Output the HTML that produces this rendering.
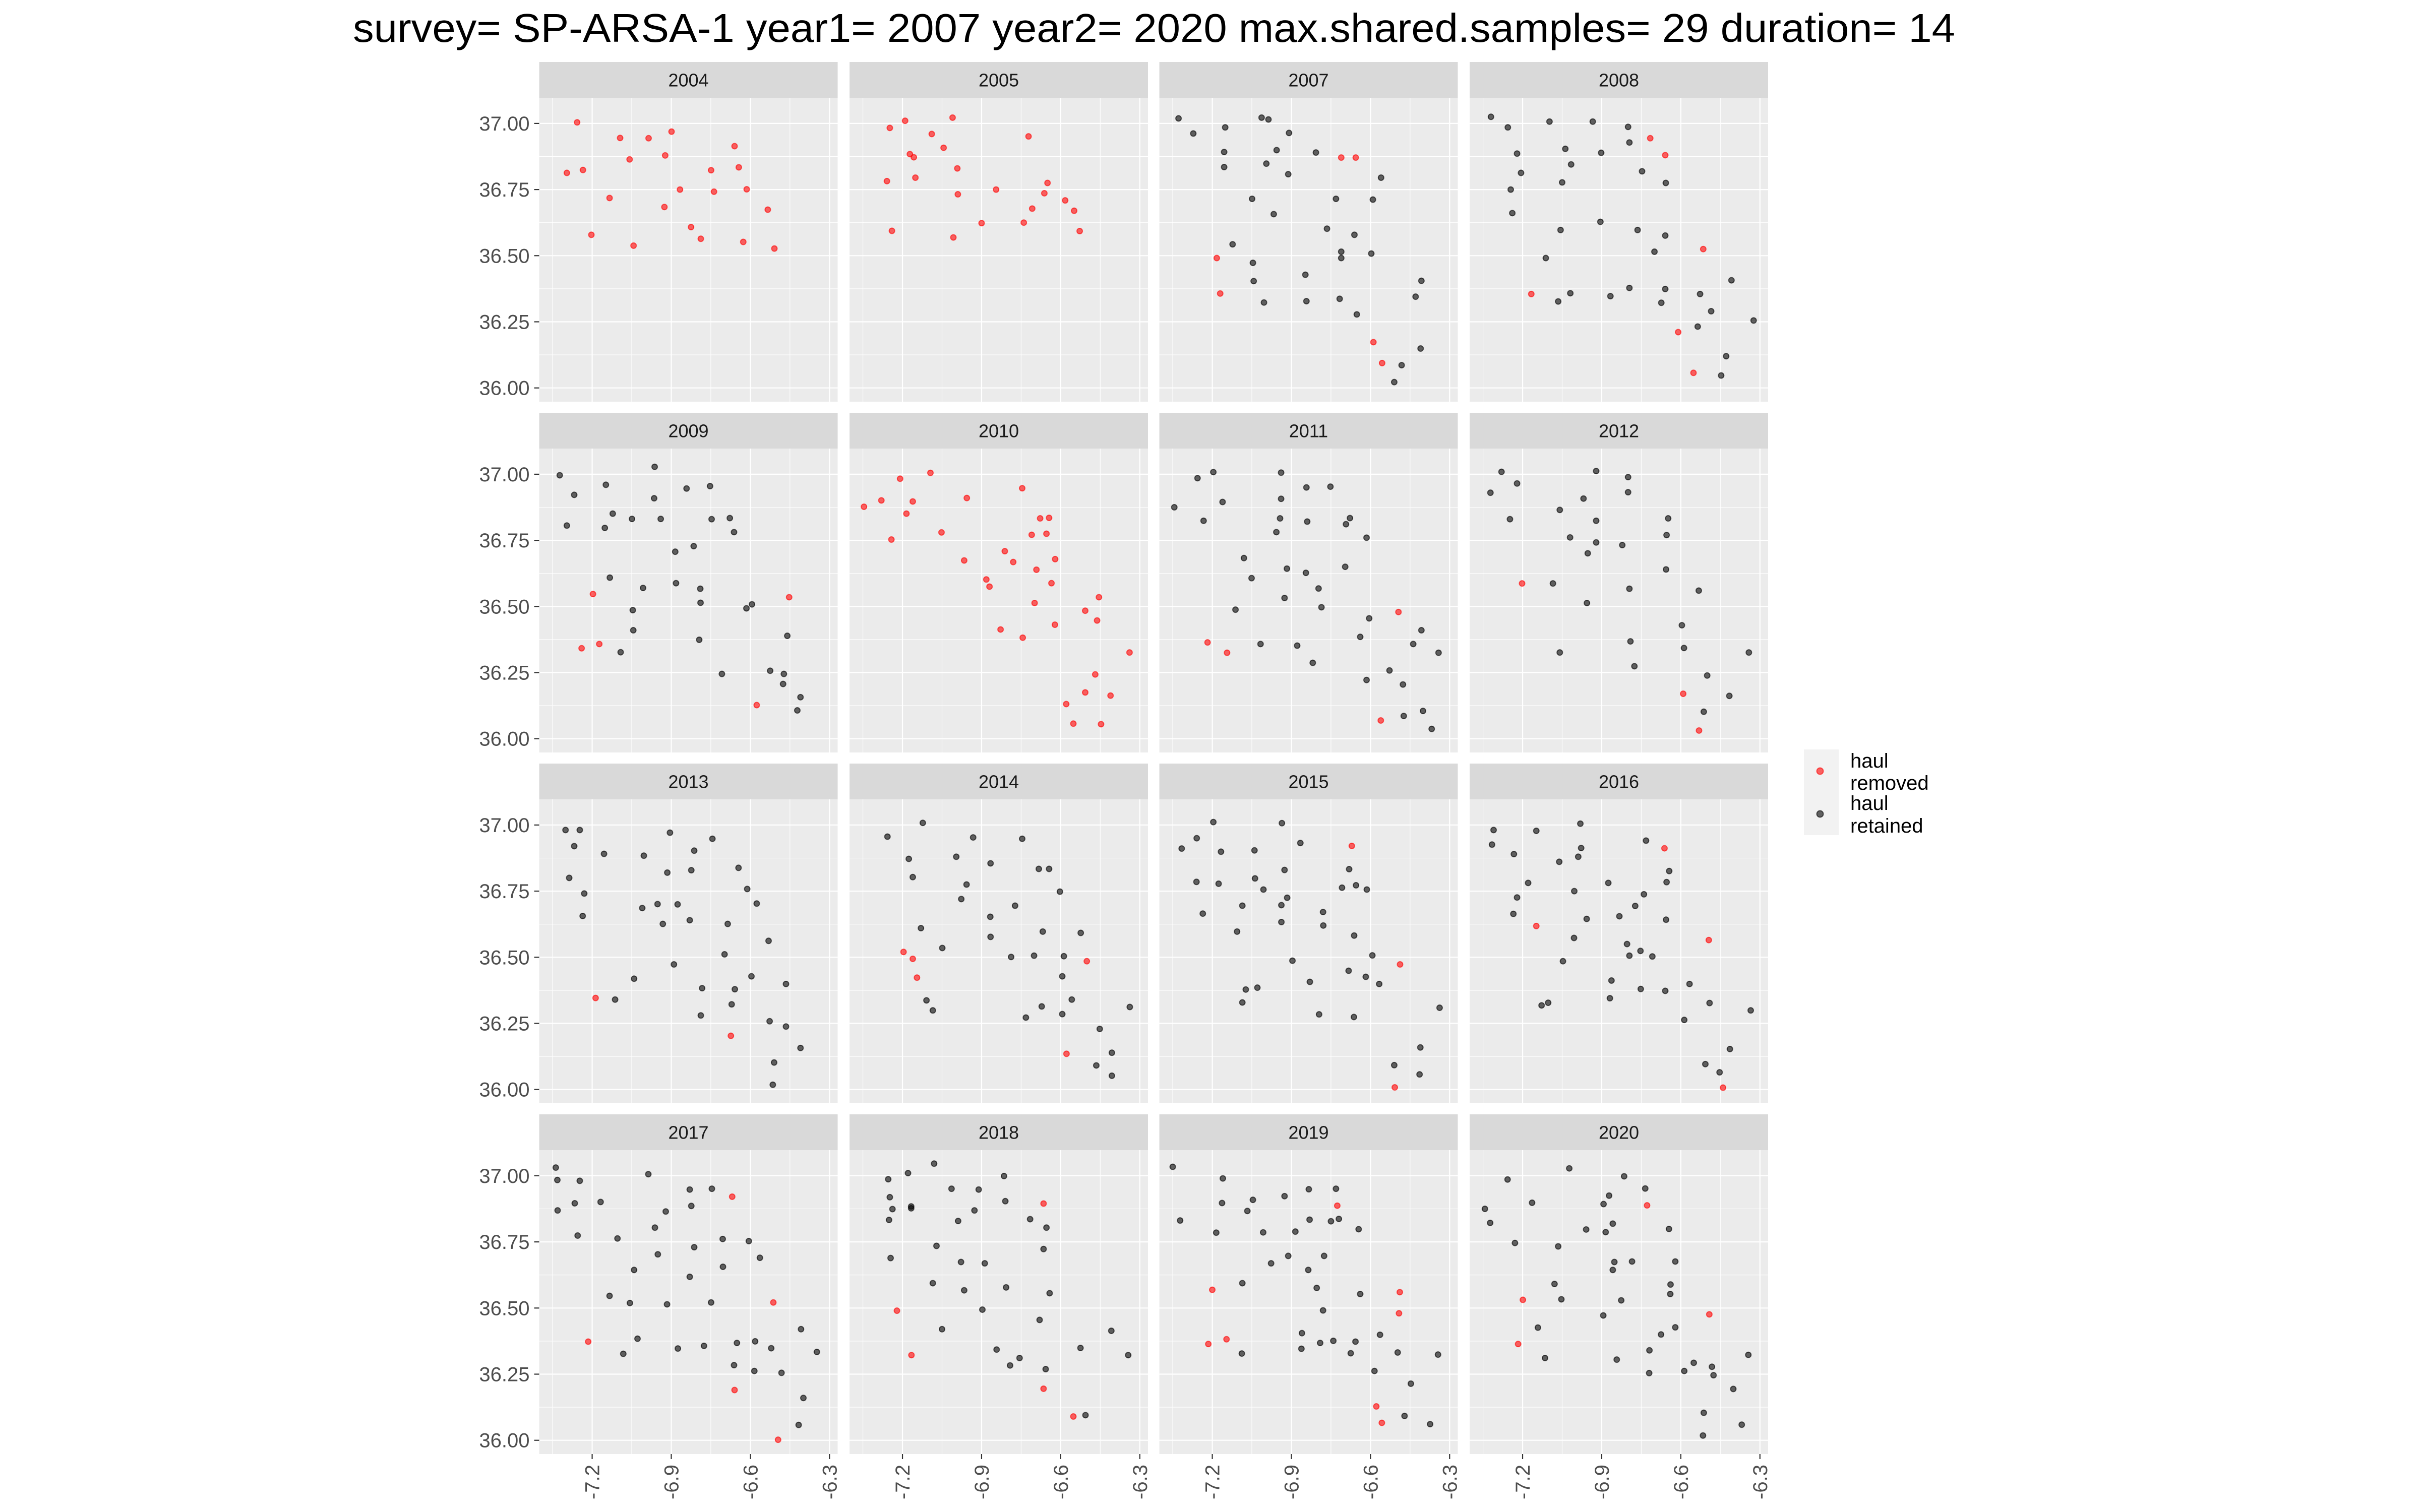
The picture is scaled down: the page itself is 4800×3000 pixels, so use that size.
<!DOCTYPE html>
<html><head><meta charset="utf-8"><title>survey SP-ARSA-1 hauls</title>
<style>
html,body{margin:0;padding:0;background:#fff;}
svg{display:block;}
text{font-family:"Liberation Sans",Arial,sans-serif;}
</style></head>
<body>
<svg id="chart" width="4800" height="3000" viewBox="0 0 4800 3000" xmlns="http://www.w3.org/2000/svg">
<rect width="4800" height="3000" fill="#ffffff"/>
<text x="700" y="83" font-size="80" fill="#000" textLength="3178" lengthAdjust="spacingAndGlyphs">survey= SP-ARSA-1 year1= 2007 year2= 2020 max.shared.samples= 29 duration= 14</text>
<g id="panels"></g>
<g id="legend">
<rect x="3578" y="1487" width="69" height="85" fill="#f2f2f2"/>
<rect x="3578" y="1572" width="69" height="85" fill="#f2f2f2"/>
<circle cx="3610" cy="1530" r="6.5" fill="rgba(255,0,0,0.6)" stroke="rgba(255,0,0,0.6)" stroke-width="2"/>
<circle cx="3610" cy="1615" r="6.5" fill="rgba(0,0,0,0.6)" stroke="rgba(0,0,0,0.6)" stroke-width="2"/>
<text x="3670" y="1523" font-size="40" fill="#000"><tspan x="3670" y="1523">haul</tspan><tspan x="3670" y="1567">removed</tspan></text>
<text x="3670" y="1607" font-size="40" fill="#000"><tspan x="3670" y="1607">haul</tspan><tspan x="3670" y="1652">retained</tspan></text>
</g>
</svg>
<script>
const years = ["2004","2005","2007","2008","2009","2010","2011","2012","2013","2014","2015","2016","2017","2018","2019","2020"];
const xTicks = [-7.2,-6.9,-6.6,-6.3];
const xTickLabels = ["-7.2","-6.9","-6.6","-6.3"];
const xMinor = [-7.35,-7.05,-6.75,-6.45];
const yTicks = [36,36.25,36.5,36.75,37];
const yTickLabels = ["36.00","36.25","36.50","36.75","37.00"];
const yMinor = [36.125,36.375,36.625,36.875];
const xDomain = [-7.4008,-6.269];
const yDomain = [35.948,37.097];
// [lon, lat, removed]
const hauls2004 = [[-7.257,37.004,1],[-7.094,36.945,1],[-6.986,36.944,1],[-6.899,36.969,1],[-6.66,36.914,1],[-7.058,36.864,1],[-6.923,36.879,1],[-7.296,36.813,1],[-7.235,36.824,1],[-6.749,36.823,1],[-6.644,36.834,1],[-6.867,36.75,1],[-6.738,36.742,1],[-6.614,36.751,1],[-7.134,36.718,1],[-6.926,36.684,1],[-6.534,36.674,1],[-6.825,36.608,1],[-7.203,36.579,1],[-6.788,36.564,1],[-7.043,36.538,1],[-6.627,36.552,1],[-6.509,36.527,1]];
const hauls2005 = [[-7.248,36.983,1],[-7.19,37.01,1],[-7.01,37.022,1],[-7.089,36.96,1],[-6.722,36.951,1],[-7.044,36.908,1],[-7.172,36.884,1],[-7.157,36.872,1],[-6.992,36.83,1],[-7.259,36.782,1],[-7.151,36.795,1],[-6.65,36.775,1],[-6.99,36.732,1],[-6.845,36.75,1],[-6.662,36.736,1],[-6.583,36.709,1],[-6.708,36.678,1],[-6.549,36.67,1],[-6.9,36.623,1],[-6.74,36.625,1],[-7.24,36.594,1],[-7.007,36.569,1],[-6.528,36.593,1]];
const hauls2007 = [[-7.328,37.019,0],[-7.013,37.022,0],[-6.987,37.015,0],[-7.151,36.985,0],[-7.272,36.962,0],[-6.909,36.964,0],[-6.956,36.899,0],[-6.807,36.89,0],[-7.155,36.892,0],[-6.711,36.871,1],[-6.656,36.871,1],[-7.155,36.835,0],[-6.995,36.848,0],[-6.912,36.808,0],[-6.56,36.795,0],[-7.049,36.715,0],[-6.731,36.715,0],[-6.591,36.712,0],[-6.967,36.657,0],[-6.765,36.602,0],[-6.661,36.579,0],[-7.123,36.543,0],[-7.183,36.491,1],[-7.046,36.473,0],[-6.711,36.515,0],[-6.711,36.491,0],[-6.597,36.508,0],[-6.847,36.428,0],[-7.043,36.404,0],[-6.407,36.405,0],[-7.17,36.357,1],[-7.004,36.323,0],[-6.843,36.328,0],[-6.717,36.337,0],[-6.429,36.345,0],[-6.652,36.278,0],[-6.589,36.173,1],[-6.41,36.149,0],[-6.556,36.094,1],[-6.482,36.086,0],[-6.51,36.022,0]];
const hauls2008 = [[-7.32,37.025,0],[-7.098,37.007,0],[-6.934,37.007,0],[-7.256,36.985,0],[-6.8,36.987,0],[-6.716,36.944,1],[-6.795,36.928,0],[-7.038,36.904,0],[-6.902,36.889,0],[-7.221,36.886,0],[-6.659,36.88,1],[-7.016,36.845,0],[-7.206,36.813,0],[-6.747,36.819,0],[-7.05,36.777,0],[-6.657,36.775,0],[-7.245,36.75,0],[-7.239,36.661,0],[-6.905,36.628,0],[-7.056,36.597,0],[-6.764,36.597,0],[-6.659,36.576,0],[-6.515,36.525,1],[-6.7,36.515,0],[-7.112,36.491,0],[-6.408,36.407,0],[-6.795,36.378,0],[-6.659,36.374,0],[-7.167,36.355,1],[-7.019,36.358,0],[-6.867,36.347,0],[-6.527,36.355,0],[-7.065,36.327,0],[-6.674,36.322,0],[-6.485,36.29,0],[-6.324,36.255,0],[-6.536,36.232,0],[-6.61,36.211,1],[-6.428,36.12,0],[-6.552,36.057,1],[-6.447,36.047,0]];
const hauls2009 = [[-6.963,37.028,0],[-7.323,36.996,0],[-7.148,36.96,0],[-6.842,36.946,0],[-6.753,36.955,0],[-7.268,36.922,0],[-6.965,36.909,0],[-7.122,36.851,0],[-7.049,36.831,0],[-6.94,36.831,0],[-6.747,36.83,0],[-6.678,36.834,0],[-7.296,36.806,0],[-7.152,36.797,0],[-6.662,36.781,0],[-6.815,36.728,0],[-6.885,36.707,0],[-7.133,36.609,0],[-6.882,36.588,0],[-7.007,36.57,0],[-6.79,36.567,0],[-7.197,36.547,1],[-6.453,36.535,1],[-6.789,36.514,0],[-6.594,36.508,0],[-6.615,36.493,0],[-7.046,36.486,0],[-7.044,36.41,0],[-6.46,36.389,0],[-6.794,36.374,0],[-7.173,36.358,1],[-7.24,36.342,1],[-7.092,36.327,0],[-6.708,36.245,0],[-6.525,36.257,0],[-6.473,36.245,0],[-6.476,36.207,0],[-6.41,36.157,0],[-6.576,36.127,1],[-6.422,36.107,0]];
const hauls2010 = [[-7.094,37.005,1],[-7.209,36.983,1],[-6.746,36.947,1],[-6.956,36.91,1],[-7.28,36.901,1],[-7.161,36.897,1],[-7.346,36.877,1],[-7.185,36.851,1],[-6.678,36.833,1],[-6.644,36.835,1],[-7.052,36.78,1],[-6.71,36.771,1],[-6.654,36.775,1],[-7.242,36.753,1],[-6.812,36.709,1],[-6.966,36.674,1],[-6.78,36.668,1],[-6.621,36.679,1],[-6.692,36.639,1],[-6.882,36.602,1],[-6.87,36.575,1],[-6.635,36.588,1],[-6.455,36.535,1],[-6.699,36.513,1],[-6.507,36.484,1],[-6.462,36.447,1],[-6.622,36.431,1],[-6.828,36.413,1],[-6.744,36.382,1],[-6.339,36.326,1],[-6.469,36.243,1],[-6.507,36.175,1],[-6.411,36.163,1],[-6.579,36.131,1],[-6.552,36.057,1],[-6.447,36.055,1]];
const hauls2011 = [[-7.196,37.008,0],[-6.939,37.006,0],[-7.256,36.985,0],[-6.843,36.95,0],[-6.752,36.953,0],[-7.161,36.895,0],[-6.939,36.907,0],[-7.344,36.875,0],[-7.233,36.824,0],[-6.943,36.833,0],[-6.84,36.821,0],[-6.678,36.834,0],[-6.693,36.811,0],[-6.957,36.781,0],[-6.615,36.76,0],[-7.08,36.683,0],[-6.917,36.643,0],[-6.845,36.627,0],[-6.696,36.65,0],[-7.051,36.607,0],[-6.797,36.568,0],[-6.926,36.532,0],[-7.112,36.488,0],[-6.786,36.497,0],[-6.494,36.479,1],[-6.605,36.455,0],[-6.407,36.41,0],[-6.639,36.385,0],[-7.218,36.364,1],[-7.144,36.325,1],[-7.017,36.358,0],[-6.878,36.352,0],[-6.438,36.358,0],[-6.342,36.325,0],[-6.819,36.287,0],[-6.528,36.258,0],[-6.615,36.222,0],[-6.477,36.205,0],[-6.401,36.105,0],[-6.474,36.086,0],[-6.561,36.069,1],[-6.368,36.037,0]];
const hauls2012 = [[-7.28,37.009,0],[-6.921,37.012,0],[-6.8,36.989,0],[-7.221,36.965,0],[-7.322,36.93,0],[-6.8,36.932,0],[-6.969,36.908,0],[-7.059,36.865,0],[-7.248,36.83,0],[-6.921,36.824,0],[-6.648,36.833,0],[-6.654,36.77,0],[-7.02,36.761,0],[-6.921,36.742,0],[-6.822,36.732,0],[-6.953,36.701,0],[-6.656,36.64,0],[-7.202,36.587,1],[-7.085,36.587,0],[-6.795,36.567,0],[-6.532,36.56,0],[-6.956,36.513,0],[-6.596,36.429,0],[-6.791,36.368,0],[-6.588,36.343,0],[-7.059,36.326,0],[-6.342,36.326,0],[-6.776,36.274,0],[-6.5,36.239,0],[-6.591,36.17,1],[-6.416,36.162,0],[-6.513,36.102,0],[-6.531,36.031,1]];
const hauls2013 = [[-7.301,36.981,0],[-7.247,36.981,0],[-6.905,36.971,0],[-6.744,36.948,0],[-7.268,36.92,0],[-7.155,36.891,0],[-7.004,36.884,0],[-6.813,36.903,0],[-6.645,36.838,0],[-6.915,36.82,0],[-6.824,36.829,0],[-7.287,36.8,0],[-6.612,36.758,0],[-7.23,36.741,0],[-6.952,36.701,0],[-6.876,36.7,0],[-7.01,36.686,0],[-6.576,36.703,0],[-7.236,36.656,0],[-6.83,36.64,0],[-6.932,36.626,0],[-6.686,36.626,0],[-6.531,36.562,0],[-6.698,36.511,0],[-6.89,36.473,0],[-7.041,36.419,0],[-6.596,36.428,0],[-6.465,36.399,0],[-6.783,36.383,0],[-6.659,36.379,0],[-7.187,36.346,1],[-7.113,36.34,0],[-6.671,36.322,0],[-6.788,36.28,0],[-6.527,36.258,0],[-6.465,36.238,0],[-6.674,36.203,1],[-6.41,36.157,0],[-6.51,36.102,0],[-6.515,36.018,0]];
const hauls2014 = [[-7.123,37.008,0],[-7.257,36.956,0],[-6.932,36.953,0],[-6.746,36.948,0],[-7.176,36.872,0],[-6.996,36.88,0],[-6.866,36.855,0],[-6.683,36.834,0],[-6.644,36.834,0],[-7.161,36.803,0],[-6.957,36.775,0],[-6.603,36.748,0],[-6.977,36.72,0],[-6.773,36.695,0],[-6.867,36.653,0],[-7.13,36.61,0],[-6.668,36.597,0],[-6.524,36.592,0],[-6.866,36.577,0],[-7.049,36.535,0],[-7.196,36.52,1],[-7.161,36.494,1],[-6.788,36.501,0],[-6.701,36.506,0],[-6.588,36.504,0],[-6.501,36.485,1],[-7.145,36.423,1],[-6.594,36.428,0],[-7.109,36.337,0],[-6.558,36.34,0],[-6.672,36.314,0],[-6.338,36.312,0],[-7.085,36.299,0],[-6.732,36.272,0],[-6.594,36.285,0],[-6.452,36.229,0],[-6.578,36.135,1],[-6.406,36.139,0],[-6.465,36.091,0],[-6.406,36.052,0]];
const hauls2015 = [[-7.196,37.011,0],[-6.936,37.007,0],[-7.259,36.95,0],[-6.866,36.932,0],[-6.671,36.921,1],[-7.316,36.911,0],[-7.167,36.899,0],[-7.04,36.904,0],[-6.926,36.83,0],[-6.681,36.833,0],[-7.26,36.785,0],[-7.176,36.778,0],[-7.038,36.798,0],[-7.006,36.756,0],[-6.708,36.763,0],[-6.655,36.772,0],[-6.614,36.756,0],[-6.916,36.725,0],[-7.086,36.695,0],[-6.938,36.697,0],[-7.236,36.665,0],[-6.78,36.671,0],[-6.938,36.633,0],[-6.779,36.62,0],[-7.106,36.597,0],[-6.662,36.582,0],[-6.593,36.507,0],[-6.896,36.487,0],[-6.488,36.473,1],[-6.683,36.449,0],[-6.618,36.426,0],[-6.83,36.407,0],[-6.567,36.399,0],[-7.029,36.385,0],[-7.073,36.378,0],[-7.086,36.329,0],[-6.338,36.309,0],[-6.795,36.284,0],[-6.663,36.274,0],[-6.411,36.159,0],[-6.51,36.092,0],[-6.414,36.057,0],[-6.508,36.008,1]];
const hauls2016 = [[-6.981,37.005,0],[-7.31,36.981,0],[-7.148,36.978,0],[-7.316,36.926,0],[-6.732,36.941,0],[-6.978,36.913,0],[-6.662,36.912,1],[-7.233,36.89,0],[-6.989,36.88,0],[-7.061,36.861,0],[-6.644,36.826,0],[-7.179,36.781,0],[-6.875,36.781,0],[-6.654,36.784,0],[-7.004,36.75,0],[-6.74,36.738,0],[-7.221,36.726,0],[-6.773,36.694,0],[-7.235,36.664,0],[-6.957,36.645,0],[-6.833,36.655,0],[-6.656,36.642,0],[-7.148,36.618,1],[-6.494,36.565,1],[-7.005,36.573,0],[-6.804,36.55,0],[-6.753,36.524,0],[-6.795,36.506,0],[-6.708,36.503,0],[-7.047,36.485,0],[-6.863,36.412,0],[-6.567,36.399,0],[-6.752,36.38,0],[-6.659,36.373,0],[-6.869,36.345,0],[-7.103,36.328,0],[-7.128,36.318,0],[-6.491,36.327,0],[-6.335,36.299,0],[-6.587,36.263,0],[-6.414,36.153,0],[-6.507,36.096,0],[-6.453,36.065,0],[-6.44,36.007,1]];
const hauls2017 = [[-7.338,37.031,0],[-6.987,37.006,0],[-7.332,36.984,0],[-7.247,36.981,0],[-6.83,36.948,0],[-6.746,36.951,0],[-6.669,36.921,1],[-7.266,36.896,0],[-7.168,36.901,0],[-6.824,36.886,0],[-7.331,36.869,0],[-6.921,36.865,0],[-6.962,36.804,0],[-7.255,36.774,0],[-7.104,36.763,0],[-6.705,36.761,0],[-6.606,36.753,0],[-6.813,36.73,0],[-6.951,36.703,0],[-6.564,36.69,0],[-7.041,36.644,0],[-6.704,36.656,0],[-6.83,36.618,0],[-7.134,36.546,0],[-7.057,36.519,0],[-6.916,36.514,0],[-6.749,36.521,0],[-6.513,36.521,1],[-6.408,36.42,0],[-7.215,36.373,1],[-7.028,36.384,0],[-7.082,36.327,0],[-6.875,36.347,0],[-6.776,36.357,0],[-6.651,36.368,0],[-6.582,36.374,0],[-6.521,36.348,0],[-6.348,36.334,0],[-6.662,36.284,0],[-6.585,36.262,0],[-6.482,36.255,0],[-6.66,36.19,1],[-6.399,36.16,0],[-6.417,36.058,0],[-6.495,36.002,1]];
const hauls2018 = [[-7.08,37.046,0],[-7.179,37.01,0],[-7.254,36.987,0],[-6.815,36.999,0],[-7.014,36.951,0],[-6.911,36.948,0],[-7.248,36.919,0],[-6.81,36.904,0],[-6.665,36.895,1],[-7.167,36.884,0],[-7.167,36.877,0],[-7.238,36.874,0],[-6.927,36.869,0],[-7.251,36.833,0],[-6.989,36.829,0],[-6.716,36.836,0],[-6.654,36.804,0],[-7.071,36.735,0],[-6.665,36.723,0],[-7.245,36.689,0],[-6.978,36.674,0],[-6.888,36.669,0],[-7.085,36.594,0],[-6.966,36.567,0],[-6.807,36.578,0],[-6.642,36.556,0],[-7.221,36.49,1],[-6.897,36.494,0],[-6.68,36.455,0],[-7.05,36.42,0],[-6.408,36.414,0],[-6.843,36.343,0],[-6.525,36.349,0],[-7.166,36.322,1],[-6.344,36.322,0],[-6.756,36.311,0],[-6.792,36.283,0],[-6.657,36.269,0],[-6.665,36.195,1],[-6.552,36.09,1],[-6.506,36.095,0]];
const hauls2019 = [[-7.35,37.034,0],[-7.16,36.99,0],[-6.834,36.949,0],[-6.731,36.951,0],[-6.926,36.923,0],[-7.046,36.909,0],[-7.163,36.897,0],[-6.726,36.887,1],[-7.067,36.867,0],[-7.322,36.831,0],[-6.831,36.834,0],[-6.75,36.828,0],[-6.72,36.837,0],[-6.645,36.798,0],[-7.185,36.785,0],[-7.007,36.786,0],[-6.885,36.789,0],[-6.912,36.697,0],[-6.776,36.697,0],[-6.977,36.669,0],[-6.836,36.644,0],[-7.086,36.594,0],[-6.804,36.576,0],[-7.2,36.569,1],[-6.639,36.553,0],[-6.489,36.56,1],[-6.78,36.491,0],[-6.492,36.48,1],[-6.86,36.405,0],[-6.564,36.399,0],[-7.146,36.382,1],[-7.215,36.364,1],[-6.791,36.368,0],[-6.741,36.376,0],[-6.657,36.373,0],[-6.862,36.346,0],[-7.088,36.328,0],[-6.675,36.329,0],[-6.497,36.332,0],[-6.344,36.324,0],[-6.585,36.262,0],[-6.447,36.214,0],[-6.578,36.128,1],[-6.471,36.092,0],[-6.557,36.066,1],[-6.374,36.061,0]];
const hauls2020 = [[-7.023,37.028,0],[-6.815,36.998,0],[-7.257,36.986,0],[-6.735,36.952,0],[-6.872,36.925,0],[-7.164,36.898,0],[-6.893,36.893,0],[-6.728,36.888,1],[-7.343,36.875,0],[-7.323,36.822,0],[-6.858,36.819,0],[-6.959,36.797,0],[-6.885,36.787,0],[-6.645,36.799,0],[-7.229,36.746,0],[-7.065,36.733,0],[-6.852,36.674,0],[-6.785,36.676,0],[-6.621,36.676,0],[-6.858,36.644,0],[-7.079,36.591,0],[-6.639,36.589,0],[-6.64,36.553,0],[-7.199,36.531,1],[-7.053,36.533,0],[-6.826,36.529,0],[-6.894,36.472,0],[-6.492,36.476,1],[-7.142,36.426,0],[-6.621,36.427,0],[-6.675,36.4,0],[-7.217,36.364,1],[-6.719,36.34,0],[-6.344,36.323,0],[-7.115,36.311,0],[-6.843,36.305,0],[-6.551,36.293,0],[-6.482,36.278,0],[-6.72,36.254,0],[-6.587,36.262,0],[-6.476,36.246,0],[-6.401,36.194,0],[-6.513,36.104,0],[-6.369,36.059,0],[-6.516,36.018,0]];
const panelHauls = [hauls2004,hauls2005,hauls2007,hauls2008,hauls2009,hauls2010,hauls2011,hauls2012,hauls2013,hauls2014,hauls2015,hauls2016,hauls2017,hauls2018,hauls2019,hauls2020];

const NS = "http://www.w3.org/2000/svg";
const colLeft = [1069.5,1685,2299.5,2915];
const panelW = 592, panelH = 603, rowPitch = 696, stripTop0 = 123, stripH = 71;
function mk(tag, attrs, parent){
  const e = document.createElementNS(NS, tag);
  for (const k in attrs) e.setAttribute(k, attrs[k]);
  parent.appendChild(e);
  return e;
}
function xScale(lon, c){ return colLeft[c] + (lon - xDomain[0]) / (xDomain[1]-xDomain[0]) * panelW; }
function yScale(lat, r){ const top = stripTop0 + r*rowPitch + stripH; return top + (yDomain[1]-lat) / (yDomain[1]-yDomain[0]) * panelH; }

const root = document.getElementById('panels');
years.forEach((yr, i) => {
  const r = Math.floor(i/4), c = i%4;
  const x0 = colLeft[c], sTop = stripTop0 + r*rowPitch, pTop = sTop + stripH;
  const g = mk('g', {}, root);
  
  
  const strip = mk('rect', {x:x0, y:sTop, width:panelW, height:stripH, fill:'#d9d9d9'}, g);
  
  
  const st = mk('text', {x:x0+panelW/2, y:sTop+stripH/2+13, 'font-size':36, fill:'#1a1a1a', 'text-anchor':'middle'}, g);
  st.textContent = yr;
  
  
  const bg = mk('rect', {x:x0, y:pTop, width:panelW, height:panelH, fill:'#ebebeb'}, g);
  
  
  xMinor.forEach(v => { const l = mk('line', {x1:xScale(v,c), x2:xScale(v,c), y1:pTop, y2:pTop+panelH, stroke:'#fff', 'stroke-width':1.1}, g);
      });
  yMinor.forEach(v => { const l = mk('line', {x1:x0, x2:x0+panelW, y1:yScale(v,r), y2:yScale(v,r), stroke:'#fff', 'stroke-width':1.1}, g);
      });
  xTicks.forEach(v => { const l = mk('line', {x1:xScale(v,c), x2:xScale(v,c), y1:pTop, y2:pTop+panelH, stroke:'#fff', 'stroke-width':2.2}, g);
      });
  yTicks.forEach(v => { const l = mk('line', {x1:x0, x2:x0+panelW, y1:yScale(v,r), y2:yScale(v,r), stroke:'#fff', 'stroke-width':2.2}, g);
      });
  if (c === 0) {
    yTicks.forEach((v, k) => {
      const y = yScale(v, r);
      const t = mk('line', {x1:x0-10, x2:x0, y1:y, y2:y, stroke:'#333', 'stroke-width':2.2}, g);
      
      
      const lb = mk('text', {x:x0-19, y:y+14, 'font-size':40, fill:'#4d4d4d', 'text-anchor':'end'}, g);
      lb.textContent = yTickLabels[k];
      
      
    });
  }
  if (r === 3) {
    xTicks.forEach((v, k) => {
      const x = xScale(v, c), yb = pTop + panelH;
      const t = mk('line', {x1:x, x2:x, y1:yb, y2:yb+10, stroke:'#333', 'stroke-width':2.2}, g);
      
      
      const lx = x + 14, ly = yb + 21;
      const lb = mk('text', {x:lx, y:ly, 'font-size':40, fill:'#4d4d4d', 'text-anchor':'end', transform:'rotate(-90 '+lx+' '+ly+')'}, g);
      lb.textContent = xTickLabels[k];
      
      
    });
  }
  panelHauls[i].forEach(h => {
    const col = h[2] ? 'rgba(255,0,0,0.6)' : 'rgba(0,0,0,0.6)';
    const p = mk('circle', {cx:xScale(h[0],c), cy:yScale(h[1],r), r:5.5, fill:col, stroke:col, 'stroke-width':2}, g);
    
    
  });
});
</script>
</body></html>
